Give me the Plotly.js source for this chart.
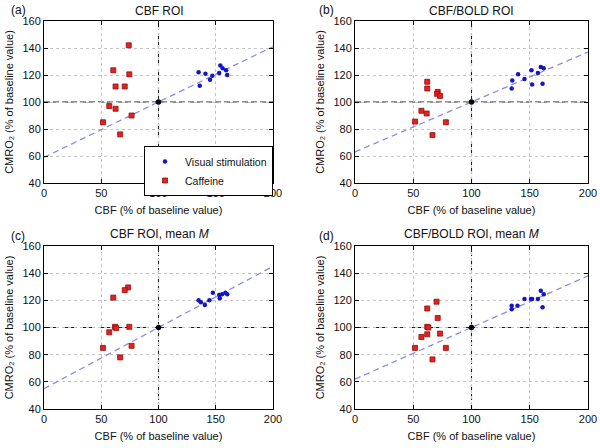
<!DOCTYPE html>
<html>
<head>
<meta charset="utf-8">
<script src="https://cdn.plot.ly/plotly-3.0.1.min.js"></script>
<style>
  html, body { margin:0; padding:0; background:#fff; }
  #chart { width:600px; height:448px; }
</style>
</head>
<body>
<div id="chart"></div>
<script>
// tick labels
const xTicks = [0, 50, 100, 150, 200];
const yTicks = [40, 60, 80, 100, 120, 140, 160];

// panel (a) CBF ROI
const visA_x = [135, 141, 147, 145, 136, 153, 154, 156, 159, 160];
const visA_y = [122, 121, 119.5, 116.5, 112, 121.5, 127, 125, 123.5, 120];
const cafA_x = [74, 60.5, 74.5, 62.5, 70.5, 57, 62.5, 76.5, 51.5, 66.5];
const cafA_y = [142, 123.5, 120.5, 111.5, 111.5, 97, 95, 90, 85, 76];

// panel (b) CBF/BOLD ROI
const visB_x = [135, 134.5, 140, 145.5, 151.5, 157, 152, 159.5, 162, 161];
const visB_y = [116, 110, 120.5, 117, 123.5, 121.5, 113, 126, 125, 113.5];
const cafB_x = [62, 62, 71, 70.5, 73, 57, 61.5, 78, 51.5, 66.5];
const cafB_y = [115, 110, 107.5, 106, 104.5, 93.5, 91.5, 85, 85.5, 75.5];

// panel (c) CBF ROI, mean M
const visC_x = [135, 137, 140.5, 144.5, 147.5, 153, 153.5, 155.5, 158.5, 160];
const visC_y = [120, 118.5, 116.5, 120, 125.5, 124, 121.5, 124.5, 125.5, 124.5];
const cafC_x = [73.5, 70.5, 60.5, 62, 63, 74.5, 57, 51.5, 76.5, 66.5];
const cafC_y = [129.5, 127.5, 122, 100.5, 99.5, 100.5, 96.5, 85, 86.5, 78];

// panel (d) CBF/BOLD ROI, mean M
const visD_x = [134.5, 134.5, 139.5, 145.5, 151, 152, 157, 159.5, 162, 161];
const visD_y = [116, 113.5, 116, 121, 121, 121, 121, 127, 124.5, 115];
const cafD_x = [70, 62, 71, 62, 63, 73, 62, 57, 51.5, 78, 66.5];
const cafD_y = [119, 114, 107, 100.5, 100, 95.5, 95, 93, 85, 85, 76.5];

// fitted lines (ends at CBF = 0 and 200)
const fitX = [0, 200];
const fitA = [59, 141];
const fitB = [63, 137];
const fitC = [55, 145];
const fitD = [62, 138];

const baseX = [100];
const baseY = [100];

const panels = [
  {vx:visA_x, vy:visA_y, cx:cafA_x, cy:cafA_y, fit:fitA, legend:true},
  {vx:visB_x, vy:visB_y, cx:cafB_x, cy:cafB_y, fit:fitB},
  {vx:visC_x, vy:visC_y, cx:cafC_x, cy:cafC_y, fit:fitC},
  {vx:visD_x, vy:visD_y, cx:cafD_x, cy:cafD_y, fit:fitD}
];

const font = 'Liberation Sans, Arial, sans-serif';
const traces = [];
const shapes = [];

panels.forEach((p, i) => {
  const xa = i === 0 ? 'x' : 'x' + (i + 1);
  const ya = i === 0 ? 'y' : 'y' + (i + 1);
  traces.push({type:'scatter', mode:'lines', x:fitX, y:p.fit, xaxis:xa, yaxis:ya,
    line:{color:'#8c8ce6', width:1.3, dash:'6px,4px'}, showlegend:false, hoverinfo:'skip'});
  traces.push({type:'scatter', mode:'markers', name:'Visual stimulation', x:p.vx, y:p.vy, xaxis:xa, yaxis:ya,
    marker:{symbol:'circle', size:4.5, color:'#1414c8'}, showlegend:!!p.legend});
  traces.push({type:'scatter', mode:'markers', name:'Caffeine', x:p.cx, y:p.cy, xaxis:xa, yaxis:ya,
    marker:{symbol:'square', size:5, color:'#e8201c', line:{color:'#8a1010', width:0.8}}, showlegend:!!p.legend});
  traces.push({type:'scatter', mode:'markers', x:baseX, y:baseY, xaxis:xa, yaxis:ya,
    marker:{size:5.5, color:'#000'}, showlegend:false, hoverinfo:'skip'});
  // dashed baseline cross
  shapes.push({type:'line', xref:xa, yref:ya + ' domain', x0:100, x1:100, y0:0, y1:1,
    line:{color:'#222', width:1.1, dash:'6px,3px'}, layer:'below'});
  shapes.push({type:'line', xref:xa + ' domain', yref:ya, x0:0, x1:1, y0:100, y1:100,
    line:{color:'#222', width:1.1, dash:'6px,3px'}, layer:'below'});
});

function xaxis(domain, anchor){
  return {domain, anchor, range:[0,200], tickvals:xTicks, ticks:'inside', ticklen:4, tickcolor:'#000',
    showline:true, linecolor:'#000', linewidth:1, mirror:'ticks', zeroline:false,
    showgrid:true, gridcolor:'#c4c4c4', griddash:'dot', gridwidth:1,
    tickfont:{size:11, color:'#111', family:font},
    title:{text:'CBF (% of baseline value)', font:{size:11, color:'#111', family:font}, standoff:8}};
}
function yaxis(domain, anchor){
  return {domain, anchor, range:[40,160], tickvals:yTicks, ticks:'inside', ticklen:4, tickcolor:'#000',
    showline:true, linecolor:'#000', linewidth:1, mirror:'ticks', zeroline:false,
    showgrid:true, gridcolor:'#c4c4c4', griddash:'dot', gridwidth:1,
    tickfont:{size:11, color:'#111', family:font},
    title:{text:'CMRO₂ (% of baseline value)', font:{size:11, color:'#111', family:font}, standoff:6}};
}

const xL = [44/600, 273/600], xR = [355/600, 588/600];
const yT = [1-183/448, 1-21/448], yB = [1-409/448, 1-246/448];

const ann = (text, x, y, size) => ({text, x, y, xref:'paper', yref:'paper', showarrow:false,
  xanchor:'center', yanchor:'middle', font:{size, color:'#111', family:font}});

const layout = {
  width:600, height:448,
  margin:{l:0, r:0, t:0, b:0},
  paper_bgcolor:'#fff', plot_bgcolor:'#fff',
  font:{family:font, size:11},
  xaxis:xaxis(xL,'y'), yaxis:yaxis(yT,'x'),
  xaxis2:xaxis(xR,'y2'), yaxis2:yaxis(yT,'x2'),
  xaxis3:xaxis(xL,'y3'), yaxis3:yaxis(yB,'x3'),
  xaxis4:xaxis(xR,'y4'), yaxis4:yaxis(yB,'x4'),
  shapes,
  showlegend:true,
  legend:{x:273/600, y:1-146/448, xanchor:'right', yanchor:'top', bgcolor:'#fff',
    bordercolor:'#000', borderwidth:1, itemwidth:30, tracegroupgap:0,
    font:{size:10.5, color:'#111', family:font}},
  annotations:[
    ann('CBF ROI', 159/600, 1-11/448, 12),
    ann('CBF/BOLD ROI', 471/600, 1-11/448, 12),
    ann('CBF ROI, mean <i>M</i>', 159/600, 1-234/448, 12),
    ann('CBF/BOLD ROI, mean <i>M</i>', 471/600, 1-234/448, 12),
    ann('(a)', 18/600, 1-10/448, 12),
    ann('(b)', 326/600, 1-10/448, 12),
    ann('(c)', 18/600, 1-236/448, 12),
    ann('(d)', 326/600, 1-236/448, 12)
  ]
};

Plotly.newPlot('chart', traces, layout, {displayModeBar:false});
</script>
</body>
</html>
